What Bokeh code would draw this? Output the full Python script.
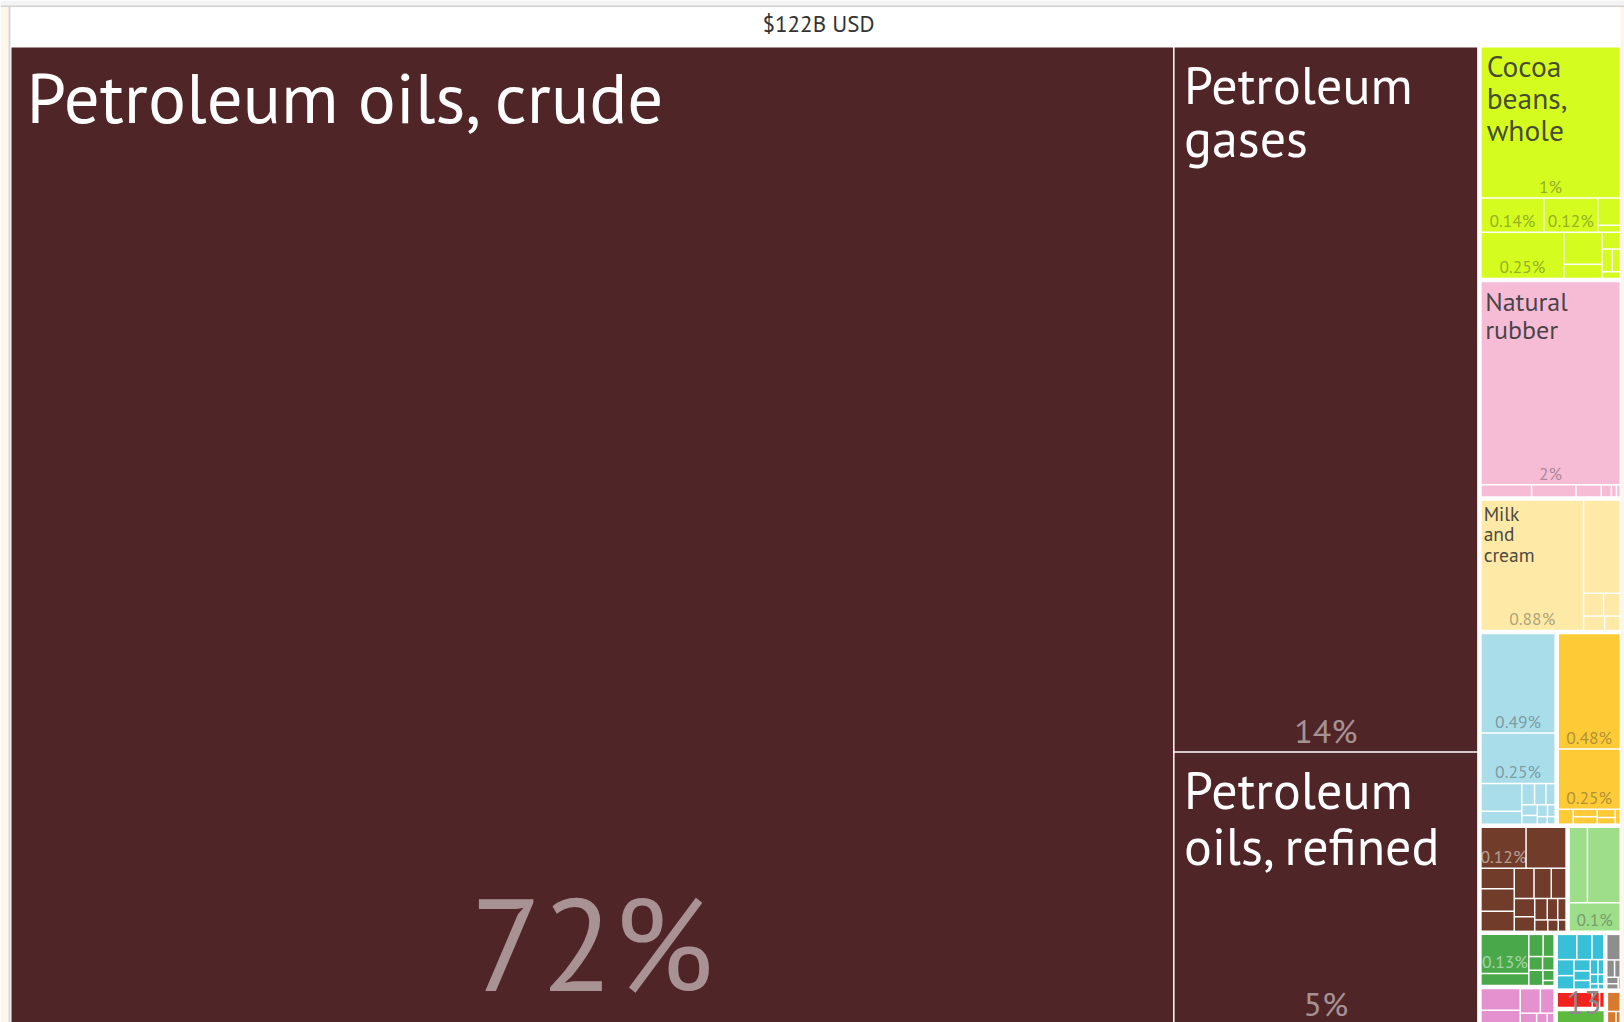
import math
from bokeh.plotting import figure
from bokeh.models import ColumnDataSource, Range1d
from bokeh.embed import file_html
from bokeh.resources import INLINE
from bokeh.core.properties import value

# ---------------- data (share of total exports, %) ----------------
total_exports_busd = 122

section_names = ["Mineral Products", "Foodstuffs", "Plastics and Rubbers", "Animal Products",
                 "Chemical Products", "Vegetable Products", "Animal Hides", "Textiles",
                 "Vegetable Oils", "Miscellaneous", "Machines", "Metals", "Transportation",
                 "Paper Goods", "Stone and Glass"]
section_colors = ["#502528", "#d4fc1e", "#f6bcd6", "#fee9a6",
                  "#a9dde9", "#fecb37", "#713c2a", "#9ede8a",
                  "#49a84a", "#e590cf", "#37c0d8", "#8e8e8e", "#f2231f",
                  "#5cbb3f", "#d67a30"]

# each section: list of chapters, each chapter a list of product shares
mineral = [[71.9, 13.55, 5.25]]
foodstuffs = [[1.37, 0.14, 0.12, 0.04, 0.01], [0.25, 0.08, 0.035, 0.02, 0.015, 0.012, 0.008]]
rubber = [[1.845, 0.04, 0.035, 0.02, 0.008, 0.004, 0.003]]
animal = [[0.88, 0.225, 0.03, 0.025, 0.02, 0.015]]
chemicals = [[0.49, 0.25, 0.075, 0.035, 0.018, 0.016, 0.013, 0.011, 0.009, 0.008, 0.006, 0.005, 0.004]]
vegetable = [[0.48, 0.25, 0.015, 0.012, 0.012, 0.01, 0.008, 0.005]]
hides = [[0.124, 0.11, 0.046, 0.05, 0.045, 0.04, 0.035, 0.03, 0.025, 0.02, 0.018, 0.015, 0.012, 0.01, 0.008, 0.006]]
textiles = [[0.095, 0.17, 0.10]]
veg_oils = [[0.13, 0.04], [0.022, 0.017, 0.013, 0.011], [0.015, 0.008, 0.004]]
misc = [[0.06, 0.042, 0.035, 0.024, 0.014, 0.009, 0.006]]
machines = [[0.035, 0.027, 0.021, 0.019, 0.016, 0.013, 0.011, 0.01, 0.008, 0.006, 0.005, 0.004, 0.003, 0.002]]
metals = [[0.028, 0.011, 0.008, 0.006, 0.005, 0.002]]
transport = [[0.043, 0.009, 0.006]]
paper = [[0.056]]
stone = [[0.021, 0.01, 0.005]]

sections_data = [mineral, foodstuffs, rubber, animal, chemicals, vegetable, hides, textiles,
                 veg_oils, misc, machines, metals, transport, paper, stone]

# names of the labelled products: (section, flat index within section) -> name
product_names = {
    ("Mineral Products", 0): "Petroleum oils, crude",
    ("Mineral Products", 1): "Petroleum gases",
    ("Mineral Products", 2): "Petroleum oils, refined",
    ("Foodstuffs", 0): "Cocoa beans, whole",
    ("Plastics and Rubbers", 0): "Natural rubber",
    ("Animal Products", 0): "Milk and cream",
}

# ---------------- style ----------------
FONT = "'PT Sans', Lato, sans-serif"
SHIFT = 0.39  # em offset of the drawn alphabetic baseline (compensated)
name_style = {  # font px, wrapped lines, left pad px, first baseline px, line spacing px
    "Petroleum oils, crude": (71, ["Petroleum oils, crude"], 15, 77, 71),
    "Petroleum gases": (52, ["Petroleum", "gases"], 9.5, 57, 53.5),
    "Petroleum oils, refined": (52, ["Petroleum", "oils, refined"], 9.5, 57.5, 56),
    "Cocoa beans, whole": (29.5, ["Cocoa", "beans,", "whole"], 5, 30.5, 32),
    "Natural rubber": (26, ["Natural", "rubber"], 3.5, 29.5, 28),
    "Milk and cream": (19.5, ["Milk", "and", "cream"], 2, 20, 20.5),
}
W, H = 1624, 1022
TM_LEFT, TM_TOP, TM_RIGHT, TM_BOTTOM = 11, 47, 1619, 1024
SEC_PAD, LEAF_PAD = 1.5, 0.75
PHI = (1 + math.sqrt(5)) / 2


def squarify(vals, x0, y0, x1, y1):
    n = len(vals)
    out = [None] * n
    remaining = float(sum(vals))
    i0 = 0
    while i0 < n:
        dx, dy = x1 - x0, y1 - y0
        i1 = i0 + 1
        s = mn = mx = vals[i0]
        alpha = max(dy / dx, dx / dy) / (remaining * PHI)
        beta = s * s * alpha
        best = max(mx / beta, beta / mn)
        while i1 < n:
            v = vals[i1]
            s2, mn2, mx2 = s + v, min(mn, v), max(mx, v)
            beta = s2 * s2 * alpha
            r = max(mx2 / beta, beta / mn2)
            if r > best:
                break
            s, mn, mx, best = s2, mn2, mx2, r
            i1 += 1
        if dx < dy:
            yb = y1 if i1 >= n else y0 + dy * s / remaining
            cx = x0
            for k in range(i0, i1):
                w = dx * vals[k] / s
                out[k] = (cx, y0, cx + w, yb)
                cx += w
            y0 = yb
        else:
            xb = x1 if i1 >= n else x0 + dx * s / remaining
            cy = y0
            for k in range(i0, i1):
                h = dy * vals[k] / s
                out[k] = (x0, cy, xb, cy + h)
                cy += h
            x0 = xb
        remaining -= s
        i0 = i1
    return out


def fmt_share(v):
    if v >= 1:
        return f"{round(v)}%"
    return f"{v:.2f}".rstrip("0").rstrip(".") + "%"


def is_dark(hexcol):
    r, g, b = int(hexcol[1:3], 16), int(hexcol[3:5], 16), int(hexcol[5:7], 16)
    return (0.2126 * r + 0.7152 * g + 0.0722 * b) / 255 < 0.6


off = SEC_PAD + LEAF_PAD
sec_totals = [sum(sum(ch) for ch in sec) for sec in sections_data]
sec_rects = squarify(sec_totals, TM_LEFT - off, TM_TOP - off, TM_RIGHT + off, TM_BOTTOM + off)

leaf = dict(left=[], right=[], top=[], bottom=[], color=[])
pct = dict(x=[], y=[], text=[], size=[], color=[], alpha=[])
nm_src = dict(x=[], y=[], text=[], size=[], color=[], alpha=[])

for si, sec in enumerate(sections_data):
    sx0, sy0, sx1, sy1 = sec_rects[si]
    sx0, sy0, sx1, sy1 = sx0 + SEC_PAD, sy0 + SEC_PAD, sx1 - SEC_PAD, sy1 - SEC_PAD
    ch_rects = squarify([sum(ch) for ch in sec], sx0, sy0, sx1, sy1)
    col = section_colors[si]
    dark = is_dark(col)
    flat = 0
    for ci, ch in enumerate(sec):
        lrects = squarify(ch, *ch_rects[ci])
        for li, v in enumerate(ch):
            x0, y0, x1, y1 = lrects[li]
            x0, y0, x1, y1 = x0 + LEAF_PAD, y0 + LEAF_PAD, x1 - LEAF_PAD, y1 - LEAF_PAD
            leaf["left"].append(x0); leaf["right"].append(x1)
            leaf["top"].append(y0); leaf["bottom"].append(y1)
            leaf["color"].append(col)
            w, h = x1 - x0, y1 - y0
            if w >= 42 and h >= 22:
                fs = max(17.5, 0.112 * w)
                base = y1 - 0.24 * fs
                pct["x"].append((x0 + x1) / 2)
                pct["y"].append(base - SHIFT * fs)
                pct["text"].append(fmt_share(v))
                pct["size"].append(f"{fs:.1f}px")
                pct["color"].append("#ffffff" if dark else "#333333")
                pct["alpha"].append(0.5 if dark else 0.4)
            nm = product_names.get((section_names[si], flat))
            if nm:
                fs, lines, padx, first, spacing = name_style[nm]
                for k, line in enumerate(lines):
                    nm_src["x"].append(x0 + padx)
                    nm_src["y"].append(y0 + first + k * spacing - SHIFT * fs)
                    nm_src["text"].append(line)
                    nm_src["size"].append(f"{fs}px")
                    nm_src["color"].append("#ffffff" if dark else "#333333")
                    nm_src["alpha"].append(1.0 if dark else 0.9)
            flat += 1

p = figure(width=W, height=H, x_range=Range1d(0, W), y_range=Range1d(H, 0),
           output_backend="svg", toolbar_location=None, min_border=0)
p.axis.visible = False
p.grid.visible = False
p.outline_line_color = None
p.background_fill_color = "white"
p.border_fill_color = "white"

# page chrome around the chart panel
p.quad(left=[0], right=[W], top=[0], bottom=[5], fill_color="#f3f3f3", line_color=None)
p.quad(left=[0], right=[W], top=[5], bottom=[6.5], fill_color="#cfcfcf", line_color=None)
p.quad(left=[0, 1620], right=[8, W], top=[6.5, 6.5], bottom=[H, H], fill_color="#fef6ec", line_color=None)
p.quad(left=[8], right=[10], top=[6.5], bottom=[H], fill_color="#d6d6d6", line_color=None)

p.quad(left="left", right="right", top="top", bottom="bottom", fill_color="color",
       line_color=None, source=ColumnDataSource(leaf))

p.text(x="x", y="y", text="text", text_font_size="size", text_color="color", text_alpha="alpha",
       text_align="center", text_baseline="alphabetic", text_font=value(FONT),
       source=ColumnDataSource(pct))

p.text(x="x", y="y", text="text", text_font_size="size", text_color="color", text_alpha="alpha",
       text_align="left", text_baseline="alphabetic", text_font=value(FONT),
       source=ColumnDataSource(nm_src))

# title bar text
p.text(x=[818], y=[31.5 - SHIFT * 23], text=[f"${total_exports_busd}B USD"],
       text_font_size="23px", text_color="#333333", text_align="center",
       text_baseline="alphabetic", text_font=value(FONT))

# stray "13" overlay seen on the original page
p.text(x=[1566], y=[1014 - SHIFT * 32], text=["13"], text_font_size="32px", text_color="#8a8a8a",
       text_align="left", text_baseline="alphabetic", text_font=value(FONT))

html = file_html(p, INLINE)
open("out.html", "w").write(html)
